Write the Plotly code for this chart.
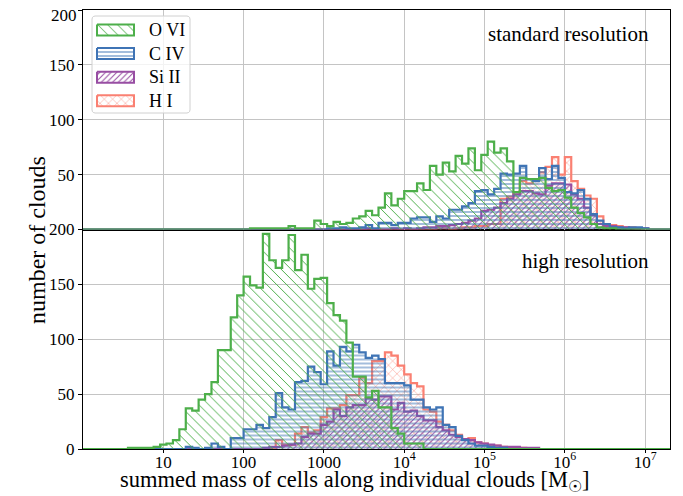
import numpy as np
import plotly.graph_objects as go

# ---- bins: 100 log-spaced bins from 1 to 1e8 solar masses ----
bin_edges = np.logspace(0, 8, 101)

species = ["O VI", "C IV", "Si II", "H I"]
line_colors = {"O VI": "#4daf4a", "C IV": "#3f74b5", "Si II": "#984ea3", "H I": "#fa8072"}
patterns = {"O VI": "\\", "C IV": "-", "Si II": "/", "H I": "x"}
pat_size = {"O VI": 7, "C IV": 4, "Si II": 4, "H I": 6}
pat_solid = {"O VI": 0.14, "C IV": 0.24, "Si II": 0.26, "H I": 0.14}

# ---- standard resolution (upper panel): first bin index and counts ----
ovi_std_start = 26
ovi_std = [1, 1, 1, 1, 1, 1, 3, 1, 1, 1, 8, 5, 3, 7, 5, 6, 10, 12, 17, 13, 20, 33, 22, 28,
           35, 35, 42, 36, 58, 50, 61, 53, 67, 60, 74, 54, 68, 80, 70, 74, 62, 34, 47, 46,
           46, 47, 38, 35, 36, 29, 20, 15, 11, 5, 2, 1, 1]
civ_std_start = 38
civ_std = [1, 1, 2, 1, 1, 2, 4, 1, 6, 6, 4, 6, 6, 10, 11, 11, 7, 12, 10, 18, 18, 21, 24,
           35, 36, 32, 37, 51, 50, 51, 58, 46, 44, 56, 46, 58, 47, 34, 33, 36, 28, 14, 8,
           5, 2, 2, 1, 2, 2, 1]
siii_std_start = 44
siii_std = [1, 0, 0, 0, 1, 0, 1, 0, 1, 2, 2, 3, 3, 4, 5, 6, 8, 10, 17, 18, 20, 24, 28, 32,
            35, 35, 33, 32, 40, 42, 42, 41, 32, 28, 20, 13, 5, 3, 3, 2, 2, 1, 1, 1]
hi_std_start = 55
hi_std = [1, 1, 0, 1, 2, 2, 3, 3, 5, 5, 28, 30, 34, 44, 42, 45, 52, 57, 66, 50, 66, 44, 37,
          31, 28, 12, 5, 4, 3, 2, 2, 1]

# ---- high resolution (lower panel) ----
ovi_high_start = 7
ovi_high = [1, 1, 1, 1, 2, 4, 5, 8, 18, 37, 35, 45, 50, 61, 90, 90, 120, 140, 157, 149,
            147, 196, 172, 165, 172, 195, 163, 177, 146, 155, 156, 133, 122, 117, 97, 66,
            66, 47, 53, 38, 38, 19, 14, 5, 5, 5]
civ_high_start = 16
civ_high = [2, 1, 0, 1, 5, 2, 0, 10, 10, 18, 18, 22, 19, 29, 51, 38, 36, 61, 62, 75, 70,
            59, 89, 76, 93, 89, 95, 88, 83, 85, 82, 60, 60, 60, 58, 45, 45, 38, 36, 38, 22,
            20, 12, 8, 5, 3, 3, 2, 1, 1]
siii_high_start = 28
siii_high = [1, 2, 2, 3, 4, 5, 11, 14, 14, 22, 25, 36, 30, 38, 40, 40, 46, 45, 48, 48, 36,
             42, 34, 35, 30, 26, 26, 20, 17, 13, 11, 9, 8, 6, 5, 4, 3, 2, 2, 2, 1, 1, 1]
hi_high_start = 30
hi_high = [8, 4, 4, 14, 20, 15, 17, 29, 37, 37, 40, 49, 49, 65, 60, 80, 80, 88, 85, 76, 68,
           60, 57, 36, 34, 25, 22, 17, 13, 9, 10, 6, 5, 3, 3, 2, 1, 1, 1]

std_data = {"O VI": (ovi_std_start, ovi_std), "C IV": (civ_std_start, civ_std),
            "Si II": (siii_std_start, siii_std), "H I": (hi_std_start, hi_std)}
high_data = {"O VI": (ovi_high_start, ovi_high), "C IV": (civ_high_start, civ_high),
             "Si II": (siii_high_start, siii_high), "H I": (hi_high_start, hi_high)}

y_ticks_high = [0, 50, 100, 150, 200]
y_ticks_std = [50, 100, 150, 200]
x_ticks = [10, 100, 1000, 1e4, 1e5, 1e6, 1e7]
x_ticktext = ["10", "100", "1000", "10<sup>4</sup>", "10<sup>5</sup>", "10<sup>6</sup>", "10<sup>7</sup>"]


def full_counts(start, vals):
    arr = np.zeros(len(bin_edges) - 1)
    arr[start:start + len(vals)] = vals
    return arr


FONT = "Liberation Serif"
OFF = 8                      # page body margin of the html page
W, H = 683 - OFF, 496 - OFF  # figure size so the page content fills the window
# plot area in window pixels: x 83..670, y 10..449
ML, MT = 83 - OFF, 10 - OFF
MR, MB = W - (670 - OFF), H - (449 - OFF)
PW, PH = W - ML - MR, H - MT - MB
XMAX_LOG = 7.31


def px_to_paper(px, py):
    return (px - OFF - ML) / PW, (H - MB - (py - OFF)) / PH


def px_to_upper(px, py):
    xv = 10 ** ((px - OFF - ML) / PW * XMAX_LOG)
    yv = (MT + PH / 2 - (py - OFF)) / (PH / 2) * 200
    return xv, yv


def pattern(sp):
    c = line_colors[sp]
    return dict(shape=patterns[sp], fgcolor=c, fgopacity=1, bgcolor="rgba(255,255,255,0)",
                size=pat_size[sp], solidity=pat_solid[sp])


fig = go.Figure()

draw_order = ["H I", "Si II", "C IV", "O VI"]
for data, xa, ya in [(std_data, "x2", "y2"), (high_data, "x", "y")]:
    for sp in draw_order:
        counts = full_counts(*data[sp])
        yvals = np.append(counts, counts[-1])
        fig.add_trace(go.Scatter(
            x=bin_edges, y=yvals, mode="lines", line_shape="hv",
            line=dict(color=line_colors[sp], width=2.2),
            fill="tozeroy", fillcolor="rgba(0,0,0,0)", fillpattern=pattern(sp),
            name=sp, showlegend=False, xaxis=xa, yaxis=ya, hoverinfo="skip",
        ))

# ---- custom legend frame: rounded box as a filled trace in the upper panel ----
bx0, by0, bx1, by1, r = 92, 16, 190, 113, 3
theta = np.linspace(0, np.pi / 2, 6)
frame = []
for cx, cy, a0 in [(bx1 - r, by0 + r, -np.pi / 2), (bx1 - r, by1 - r, 0),
                   (bx0 + r, by1 - r, np.pi / 2), (bx0 + r, by0 + r, np.pi)]:
    for t in theta:
        frame.append((cx + r * np.cos(a0 + t), cy + r * np.sin(a0 + t)))
frame.append(frame[0])
fpts = [px_to_upper(a, b) for a, b in frame]
fig.add_trace(go.Scatter(x=[p[0] for p in fpts], y=[p[1] for p in fpts], mode="lines",
                         fill="toself", fillcolor="rgba(255,255,255,0.8)",
                         line=dict(color="#d0d0d0", width=1), showlegend=False,
                         xaxis="x2", yaxis="y2", hoverinfo="skip"))

# ---- legend entries (hatched patches) ----
leg_row0, leg_dy, leg_x0, leg_w, leg_h = 30, 23.6, 97, 37, 11
for i, sp in enumerate(species):
    yc = leg_row0 + i * leg_dy
    corners = [(leg_x0, yc - leg_h / 2), (leg_x0 + leg_w, yc - leg_h / 2),
               (leg_x0 + leg_w, yc + leg_h / 2), (leg_x0, yc + leg_h / 2),
               (leg_x0, yc - leg_h / 2)]
    pts = [px_to_upper(a, b) for a, b in corners]
    fig.add_trace(go.Scatter(
        x=[p[0] for p in pts], y=[p[1] for p in pts],
        mode="lines", fill="toself", fillcolor="rgba(0,0,0,0)",
        line=dict(color=line_colors[sp], width=2), fillpattern=pattern(sp),
        showlegend=False, xaxis="x2", yaxis="y2", hoverinfo="skip"))
    ax_, ay_ = px_to_paper(leg_x0 + leg_w + 13, yc)
    fig.add_annotation(text=sp, x=ax_, y=ay_, xref="paper", yref="paper",
                       xanchor="left", yanchor="middle", showarrow=False,
                       font=dict(size=18, family=FONT))

grid_c = "#c4c4c4"
ax_common = dict(showgrid=True, gridcolor=grid_c, gridwidth=1,
                 showline=True, linecolor="black", linewidth=1.2, mirror=True,
                 zeroline=False, automargin=False, tickcolor="black")
fig.update_layout(
    width=W, height=H,
    margin=dict(l=ML, r=MR, t=MT, b=MB, autoexpand=False),
    paper_bgcolor="white", plot_bgcolor="rgba(0,0,0,0)",
    font=dict(family=FONT, color="black", size=17),
    showlegend=False,
    xaxis=dict(type="log", range=[0, XMAX_LOG], tickvals=x_ticks, ticktext=x_ticktext,
               ticks="outside", ticklen=3, tickfont=dict(size=17, family=FONT),
               ticklabelstandoff=-6,
               anchor="y", domain=[0, 1], **ax_common),
    xaxis2=dict(type="log", range=[0, XMAX_LOG], tickvals=x_ticks, matches="x",
                showticklabels=False, ticks="", anchor="y2", domain=[0, 1], **ax_common),
    yaxis=dict(domain=[0, 0.5], range=[0, 200], tickvals=y_ticks_high,
               ticks="outside", ticklen=4, tickfont=dict(size=17, family=FONT),
               anchor="x", **ax_common),
    yaxis2=dict(domain=[0.5, 1], range=[0, 200], tickvals=y_ticks_std,
                ticktext=[str(v) if v != 200 else "" for v in y_ticks_std],
                ticks="outside", ticklen=4, tickfont=dict(size=17, family=FONT),
                anchor="x2", **ax_common),
)


def add_text(text, px, py, size, xanchor="center", angle=0):
    x, y = px_to_paper(px, py)
    fig.add_annotation(text=text, x=x, y=y, xref="paper", yref="paper",
                       xanchor=xanchor, yanchor="middle", showarrow=False,
                       textangle=angle, font=dict(size=size, family=FONT))


# top tick label of the upper panel (kept just inside the page so it is not clipped)
add_text(str(y_ticks_std[-1]), 79, 15.5, 17, xanchor="right")
add_text("standard resolution", 651, 34, 21, xanchor="right")
add_text("high resolution", 651, 261, 21, xanchor="right")
add_text("summed mass of cells along individual clouds [M<sub>☉</sub>]", 355, 481, 22.5)
add_text("number of clouds", 37, 240, 24, angle=-90)

fig.write_html("out.html")
